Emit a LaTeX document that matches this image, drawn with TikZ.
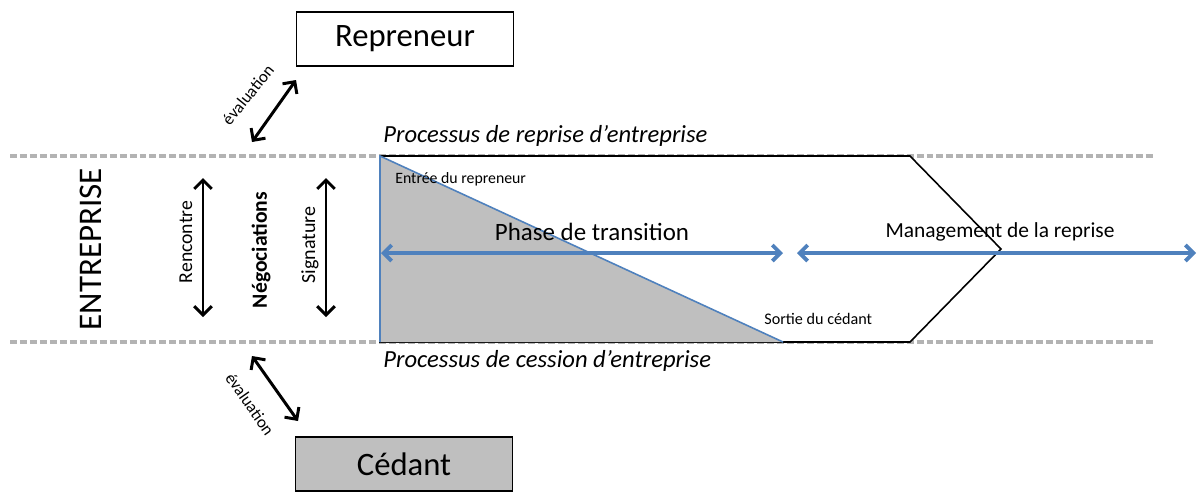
\documentclass[tikz,border=0pt]{standalone}
\usepackage{fontspec}
\setmainfont{Carlito}
\usetikzlibrary{arrows.meta}
\definecolor{gfill}{HTML}{BFBFBF}
\definecolor{dashgray}{HTML}{B3B3B3}
\definecolor{bluel}{HTML}{4F81BD}
\tikzset{
  dashline/.style={dashgray, line width=2.55pt, dash pattern=on 3.97pt off 1.7pt},
  blackarr/.style={line width=1.7pt, {Straight Barb[length=5pt,width=10pt]}-{Straight Barb[length=5pt,width=10pt]}},
  bluearr/.style={bluel, line width=2.2pt, {Straight Barb[length=4.5pt,width=9pt]}-{Straight Barb[length=4.5pt,width=9pt]}},
  actor/.style={draw, line width=1pt, minimum width=123.6pt, minimum height=30.6pt, inner sep=0pt, font=\fontsize{18.6}{21}\selectfont},
  txt/.style={inner sep=0pt},
}
\begin{document}
\begin{tikzpicture}[x=0.02cm, y=-0.02cm]
\useasboundingbox (0,0) rectangle (1198,491);
% dashed band lines
\coordinate (tl) at (10,156); \coordinate (tr) at (1155,156);
\coordinate (bl) at (10,342); \coordinate (br) at (1155,342);
\draw[dashline] (tl) -- (tr);
\draw[dashline] (bl) -- (br);
% pentagon outline
\coordinate (p1) at (380,156); \coordinate (p2) at (910,156);
\coordinate (p3) at (1001,249); \coordinate (p4) at (910,342);
\coordinate (p5) at (380,342); \coordinate (p6) at (783,342);
\draw[line width=0.9pt, fill=white] (p1) -- (p2) -- (p3) -- (p4) -- (p5) -- cycle;
% grey triangle
\fill[gfill] (p1) -- (p6) -- (p5) -- cycle;
\draw[bluel, line width=0.9pt] (p5) -- (p1) -- (p6);
% boxes
\node[actor] (rep) at (405,39) {Repreneur};
\node[actor, fill=gfill] (ced) at (404,464) {Cédant};
% blue arrows
\coordinate (a1) at (381,253); \coordinate (a2) at (783,253);
\coordinate (a3) at (797,253); \coordinate (a4) at (1196,253);
\draw[bluearr] (a1) -- (a2);
\draw[bluearr] (a3) -- (a4);
% black vertical arrows
\coordinate (r1) at (203,178); \coordinate (r2) at (203,317);
\coordinate (s1) at (326,178); \coordinate (s2) at (326,317);
\draw[blackarr] (r1) -- (r2);
\draw[blackarr] (s1) -- (s2);
% evaluation arrows
\coordinate (e1) at (252,142); \coordinate (e2) at (296,80);
\coordinate (e3) at (252,356); \coordinate (e4) at (298,421);
\draw[blackarr] (e1) -- (e2);
\draw[blackarr] (e3) -- (e4);
% texts
\node[txt, rotate=90, font=\fontsize{18.8}{21}\selectfont] (ent) at (91,249) {ENTREPRISE};
\node[txt, rotate=90, font=\fontsize{11.2}{13}\selectfont] (ren) at (186,242) {Rencontre};
\node[txt, rotate=90, font=\bfseries\fontsize{12.3}{14}\selectfont] (neg) at (261,250) {Négociations};
\node[txt, rotate=90, font=\fontsize{11.4}{13}\selectfont] (sig) at (310,245) {Signature};
\node[txt, rotate=51, font=\fontsize{9.6}{11}\selectfont] (ev1) at (248,95) {évaluation};
\node[txt, rotate=-55, font=\fontsize{9.6}{11}\selectfont] (ev2) at (250,404) {évaluation};
\node[txt, anchor=base west, font=\itshape\fontsize{14}{16}\selectfont] (pr) at (383,142) {Processus de reprise d’entreprise};
\node[txt, anchor=base west, font=\itshape\fontsize{14}{16}\selectfont] (pc) at (383,367) {Processus de cession d’entreprise};
\node[txt, anchor=base, font=\fontsize{14.2}{16}\selectfont] (ph) at (592,240) {Phase de transition};
\node[txt, anchor=base, font=\fontsize{12.2}{14}\selectfont] (mg) at (1000,237) {Management de la reprise};
\node[txt, anchor=base west, font=\fontsize{9}{11}\selectfont] (er) at (395,183) {Entrée du repreneur};
\node[txt, anchor=base west, font=\fontsize{9.2}{11}\selectfont] (sc) at (764,324) {Sortie du cédant};
\end{tikzpicture}
\end{document}
